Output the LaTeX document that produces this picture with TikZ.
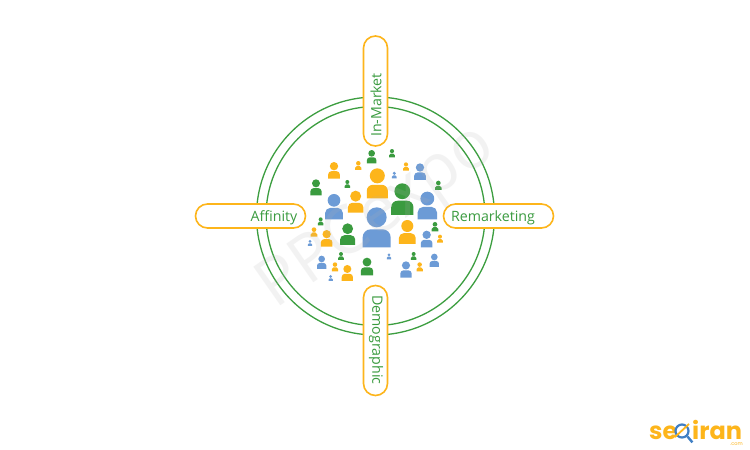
\documentclass[tikz,border=0pt]{standalone}
\usepackage{fontspec}
\setmainfont{Open Sans}
\newfontfamily\logofont{Poppins}
\definecolor{ringgreen}{HTML}{3C9E40}
\definecolor{pgreen}{HTML}{3A9B3F}
\definecolor{porange}{HTML}{FDB51B}
\definecolor{pblue}{HTML}{6C9BD6}
\definecolor{lblue}{HTML}{3F7FC4}
\tikzset{
  ring/.style={circle,draw=ringgreen,line width=1.3pt,inner sep=0pt,fill=none},
  pill/.style={draw=porange,fill=white,line width=1.6pt,rounded corners=12pt,minimum width=110pt,minimum height=24pt,inner sep=0pt},
  pilltext/.style={text=pgreen,font=\fontsize{14.2}{16}\selectfont,inner sep=0pt}
}
\newcommand{\psn}[4]{%
  \pgfmathsetmacro{\hh}{#4-#3}%
  \pgfmathsetmacro{\rr}{0.2*\hh/3}%
  \fill[#1] (#2,{#4-0.75*\hh}) circle[radius={0.25*\hh/3*1pt}];
  \fill[#1] ({#2-0.35*\hh},#4) [rounded corners=\rr pt] -- ({#2-0.35*\hh},{#4-0.45*\hh}) -- ({#2+0.35*\hh},{#4-0.45*\hh}) [sharp corners] -- ({#2+0.35*\hh},#4) -- cycle;
}
\begin{document}
\begin{tikzpicture}[x=1pt,y=-1pt]
\useasboundingbox (0,0) rectangle (750,450);
\fill[white] (0,0) rectangle (750,450);
\node[ring,minimum size=238pt] (outer) at (375.5,216) {};
\node[ring,minimum size=219pt] (inner) at (375.5,216) {};
\begin{scope}[shift={(290,140)},x=0.3333pt,y=-0.3333pt]
\psn{porange}{262}{85}{175}
\psn{pgreen}{337}{130}{225}
\psn{pblue}{412}{155}{238}
\psn{pblue}{132}{162}{238}
\psn{porange}{197}{152}{218}
\psn{pblue}{260}{202}{322}
\psn{pgreen}{173}{250}{315}
\psn{porange}{352}{240}{312}
\psn{pblue}{410}{272}{322}
\psn{porange}{110}{270}{320}
\psn{pgreen}{78}{118}{166}
\psn{porange}{132}{66}{116}
\psn{pgreen}{245}{30}{70}
\psn{pgreen}{306}{27}{52}
\psn{porange}{205}{63}{90}
\psn{porange}{348}{67}{92}
\psn{pblue}{390}{70}{120}
\psn{pblue}{313}{95}{115}
\psn{pgreen}{172}{120}{144}
\psn{pgreen}{445}{122}{150}
\psn{pgreen}{92}{232}{256}
\psn{porange}{72}{262}{290}
\psn{pblue}{60}{300}{318}
\psn{pgreen}{435}{246}{274}
\psn{porange}{450}{284}{308}
\psn{pgreen}{153}{336}{360}
\psn{pblue}{95}{347}{387}
\psn{porange}{135}{367}{394}
\psn{porange}{172}{375}{423}
\psn{pblue}{122}{405}{423}
\psn{pgreen}{231}{353}{406}
\psn{pblue}{297}{340}{358}
\psn{pgreen}{371}{336}{360}
\psn{pblue}{348}{364}{413}
\psn{porange}{389}{367}{394}
\psn{pblue}{433}{341}{381}
\end{scope}
\node[rotate=35,text=black!30,opacity=0.16,font=\fontsize{66}{66}\selectfont,inner sep=0pt] (wm) at (378,218) {PPCexpo};
\node[pill,rotate=90] (top) at (375.5,91) {};
\node[pill,rotate=90] (bottom) at (375.5,340.5) {};
\node[pill] (left) at (250.5,216) {};
\node[pill] (right) at (498.5,216) {};
\node[pilltext,rotate=90] (toptext) at (376,105) {In-Market};
\node[pilltext,rotate=-90] (bottomtext) at (376,340) {Demographic};
\node[pilltext] (lefttext) at (274,217.5) {Affinity};
\node[pilltext] (righttext) at (493,217.5) {Remarketing};
% logo
\node[anchor=base west,inner sep=0pt,text=porange,font=\logofont\bfseries\fontsize{24}{24}\selectfont] (logoa) at (649,439) {se};
\node[anchor=base west,inner sep=0pt,text=porange,font=\logofont\bfseries\fontsize{24}{24}\selectfont] (logob) at (692,439) {iran};
\node[circle,draw=lblue,line width=2.2pt,minimum size=13pt,inner sep=0pt] (lens) at (682,431) {};
\draw[lblue,line width=2.4pt] (lens.south east) -- ++(5,6);
\draw[porange,line width=1.8pt] (675,437) -- (689,424);
\node[anchor=base east,inner sep=0pt,text=porange,font=\logofont\fontsize{5}{5}\selectfont] (logoc) at (743,445) {.com};
\end{tikzpicture}
\end{document}
